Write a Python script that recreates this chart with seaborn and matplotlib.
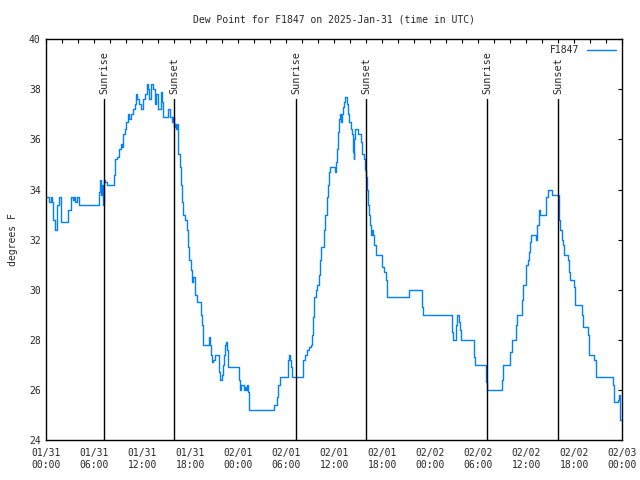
import numpy as np
import pandas as pd
import matplotlib
matplotlib.use("Agg")
import matplotlib.pyplot as plt
import matplotlib.dates as mdates
import seaborn as sns

# ---- data (hours since 2025-01-31 00:00 UTC, dew point in F) ----
hours = [0.10, 0.40, 0.55, 0.70, 0.88, 1.05, 1.38, 1.55, 1.88, 2.75, 3.05, 3.30, 3.45, 3.60, 3.80, 4.05,
         6.60, 6.70, 6.84, 6.96, 7.08, 7.17, 7.34, 7.55, 8.50, 8.63, 8.88, 9.13, 9.30, 9.46, 9.58, 9.80,
         10.00, 10.20, 10.38, 10.63, 10.88, 11.05, 11.21, 11.38, 11.58, 11.80, 12.05, 12.30, 12.55, 12.71,
         12.88, 13.05, 13.30, 13.55, 13.71, 13.96, 14.30, 14.50, 14.63, 15.25, 15.46, 15.67, 15.80, 15.96,
         16.10, 16.20, 16.33, 16.50, 16.71, 16.83, 16.96, 17.13, 17.33, 17.54, 17.71, 17.88, 18.04, 18.17,
         18.30, 18.63, 18.80, 19.30, 19.42, 19.54, 19.63, 20.30, 20.38, 20.50, 20.58, 20.67, 20.88, 21.08,
         21.63, 21.75, 21.92, 22.04, 22.21, 22.33, 22.50, 22.63, 22.75, 24.04, 24.21, 24.38, 24.71, 24.88,
         25.00, 25.13, 25.25, 25.38, 28.50, 28.83, 29.00, 29.17, 30.25, 30.38, 30.50, 30.63, 30.75,
         32.13, 32.29, 32.54, 32.79, 33.04, 33.21, 33.38, 33.50, 33.67, 33.88, 34.04, 34.17, 34.29, 34.75,
         34.88, 35.04, 35.17, 35.33, 35.46, 36.08, 36.21, 36.33, 36.46, 36.58, 36.71, 36.79, 36.92, 37.04,
         37.21, 37.38, 37.54, 37.71, 37.88, 38.04, 38.17, 38.29, 38.42, 38.50, 38.63, 39.00, 39.38, 39.50,
         39.67, 39.79, 39.92, 40.04, 40.17, 40.29, 40.46, 40.58, 40.71, 40.83, 41.00, 41.21, 42.00, 42.17,
         42.50, 42.63, 45.33, 47.00, 47.13, 50.75, 50.88, 51.21, 51.38, 51.54, 51.67, 51.83, 53.50, 53.63,
         55.00, 55.13, 56.92, 57.13, 58.00, 58.17, 58.75, 58.90, 59.46, 59.58, 60.00, 60.17, 60.33, 60.46,
         60.63, 61.25, 61.38, 61.58, 61.71, 62.50, 62.67, 63.17, 64.04, 64.21, 64.42, 64.54, 64.67, 65.25,
         65.38, 65.46, 66.00, 66.13, 67.00, 67.13, 67.75, 67.88, 68.50, 68.67, 70.83, 71.00, 71.46, 71.58,
         71.67, 71.75, 71.85]
dewpoint = [33.7, 33.5, 33.7, 33.5, 32.8, 32.4, 33.4, 33.7, 32.7, 33.2, 33.7, 33.6, 33.7, 33.5, 33.7, 33.4,
            33.9, 34.4, 33.8, 34.2, 33.4, 34.4, 34.3, 34.2, 34.6, 35.2, 35.3, 35.6, 35.8, 35.7, 36.2, 36.4,
            36.7, 37.0, 36.8, 37.0, 37.2, 37.4, 37.8, 37.6, 37.4, 37.2, 37.6, 37.8, 38.2, 38.0,
            37.6, 38.2, 38.0, 37.4, 37.8, 37.2, 37.9, 37.5, 36.9, 37.2, 36.9, 36.7, 36.9, 36.5,
            36.6, 36.4, 36.6, 35.4, 34.9, 34.2, 33.5, 33.0, 32.8, 32.4, 31.7, 31.2, 30.8, 30.3,
            30.5, 29.8, 29.5, 29.0, 28.6, 28.1, 27.8, 28.0, 28.1, 27.8, 27.4, 27.1, 27.2, 27.4,
            26.7, 26.4, 26.6, 27.0, 27.4, 27.8, 27.9, 27.6, 26.9, 26.4, 26.0, 26.2, 26.0, 26.1,
            26.0, 26.2, 25.9, 25.2, 25.4, 25.7, 26.2, 26.5, 27.2, 27.4, 27.2, 26.9, 26.5,
            27.2, 27.4, 27.6, 27.7, 27.8, 28.2, 28.9, 29.7, 30.0, 30.2, 30.6, 31.2, 31.7, 32.4,
            33.0, 33.7, 34.2, 34.7, 34.9, 34.7, 35.1, 35.6, 36.3, 36.8, 37.0, 36.7, 37.0, 37.3,
            37.5, 37.7, 37.4, 37.0, 36.7, 36.4, 36.2, 35.5, 35.2, 36.0, 36.4, 36.2, 35.9, 35.4,
            35.2, 34.8, 34.5, 34.0, 33.4, 33.0, 32.6, 32.2, 32.4, 32.2, 31.8, 31.4, 30.9, 30.7,
            30.4, 29.7, 30.0, 29.3, 29.0, 28.3, 28.0, 28.6, 29.0, 28.7, 28.4, 28.0, 27.3, 27.0,
            26.3, 26.0, 26.4, 27.0, 27.5, 28.0, 28.6, 29.0, 29.6, 30.2, 31.0, 31.2, 31.5, 31.9,
            32.2, 32.0, 32.6, 33.2, 33.0, 33.7, 34.0, 33.8, 32.8, 32.4, 32.0, 31.8, 31.4, 31.2,
            30.7, 30.4, 30.1, 29.4, 29.0, 28.5, 28.2, 27.4, 27.2, 26.5, 26.2, 25.5, 25.6, 25.8,
            25.5, 24.8, 24.8]

sunrise_hours = [7.25, 31.25, 55.15]
sunset_hours = [16.0, 40.0, 64.0]
station = "F1847"
title = "Dew Point for F1847 on 2025-Jan-31 (time in UTC)"
ylabel = "degrees F"

base = pd.Timestamp("2025-01-31 00:00")
df = pd.DataFrame({"time": base + pd.to_timedelta(hours, unit="h"),
                   "dewpoint": dewpoint})

sns.set_theme(style="white")
plt.rcParams["font.family"] = ["DejaVu Sans Mono"]
plt.rcParams["font.size"] = 7

fig = plt.figure(figsize=(6.4, 4.8), dpi=100)
ax = fig.add_axes([0.0723, 0.0833, 0.9, 0.8349])

sns.lineplot(data=df, x="time", y="dewpoint", ax=ax, color="#0080ff",
             linewidth=1, drawstyle="steps-post", estimator=None,
             label=station)

top_frac = 0.851
for h in sunrise_hours:
    t = base + pd.Timedelta(hours=h)
    ax.axvline(t, ymin=0, ymax=top_frac, color="black", linewidth=1)
    ax.text(t, top_frac + 0.012, "Sunrise", rotation=90, ha="center", va="bottom",
            transform=ax.get_xaxis_transform(), fontsize=7.3)
for h in sunset_hours:
    t = base + pd.Timedelta(hours=h)
    ax.axvline(t, ymin=0, ymax=top_frac, color="black", linewidth=1)
    ax.text(t, top_frac + 0.012, "Sunset", rotation=90, ha="center", va="bottom",
            transform=ax.get_xaxis_transform(), fontsize=7.3)

ax.set_xlim(base, base + pd.Timedelta(hours=72))
ax.set_ylim(24, 40)
ax.set_yticks(np.arange(24, 41, 2))
ax.xaxis.set_major_locator(mdates.HourLocator(byhour=[0, 6, 12, 18]))
ax.xaxis.set_minor_locator(mdates.HourLocator(byhour=range(0, 24, 2)))
ax.xaxis.set_major_formatter(mdates.DateFormatter("%m/%d\n%H:%M"))
ax.tick_params(axis="both", which="both", direction="in", top=True, right=True,
               length=3, width=0.8, color="black", labelsize=7, pad=4)
ax.tick_params(axis="x", which="major", pad=6)
for lab in ax.get_xticklabels():
    lab.set_ha("center")

for s in ax.spines.values():
    s.set_color("black")
    s.set_linewidth(1)

ax.set_xlabel("")
ax.set_ylabel(ylabel, fontsize=7, labelpad=8)
ax.set_title(title, fontsize=7, pad=12)

ax.legend(loc="upper right", frameon=False, markerfirst=False, handlelength=3,
          fontsize=7, borderaxespad=0.2)

fig.savefig("out.png", dpi=100, facecolor="white")
